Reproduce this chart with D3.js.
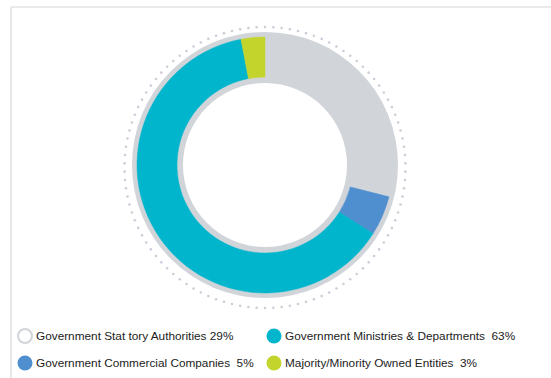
<!DOCTYPE html>
<html>
<head>
<meta charset="utf-8">
<script src="https://cdn.jsdelivr.net/npm/d3@7"></script>
<style>
  html, body { margin: 0; padding: 0; background: #fff; }
  svg { display: block; }
  text { font-family: "Liberation Sans", Arial, sans-serif; white-space: pre; }
</style>
</head>
<body>
<svg id="chart" width="551" height="378"></svg>
<script>
// Share of entities by type (percent), in drawing order clockwise from 12 o'clock
const categories = [
  "Government Stat tory Authorities",
  "Government Commercial Companies",
  "Government Ministries & Departments",
  "Majority/Minority Owned Entities"
];
const shares = [29, 5, 63, 3];
const colors = ["#d1d5d9", "#4f8fd0", "#00b5cc", "#c3d52d"];

// Legend order and label text
const legendOrder = [0, 2, 1, 3];
const legendLabels = [
  "Government Stat tory Authorities 29%",
  "Government Commercial Companies  5%",
  "Government Ministries & Departments  63%",
  "Majority/Minority Owned Entities  3%"
];

const svg = d3.select("#chart");

// Panel frame (top and left edges)
svg.append("line").attr("x1", 11).attr("y1", 7).attr("x2", 551).attr("y2", 7)
  .attr("stroke", "#e3e3e3").attr("stroke-width", 1.5);
svg.append("line").attr("x1", 11).attr("y1", 7).attr("x2", 11).attr("y2", 378)
  .attr("stroke", "#e0e0e0").attr("stroke-width", 1.5);

const cx = 265, cy = 165;
const g = svg.append("g").attr("transform", `translate(${cx},${cy})`);

// Dotted guide circle around the donut
const dotR = 140.5, dotCount = 106;
const dots = d3.range(dotCount).map(i => (i / dotCount) * 2 * Math.PI);
svg.append("g").attr("transform", `translate(${cx},${cy + 2.5})`)
  .selectAll("circle").data(dots).join("circle")
  .attr("cx", a => dotR * Math.sin(a))
  .attr("cy", a => -dotR * Math.cos(a))
  .attr("r", 1.3)
  .attr("fill", "#d0cbd9");

// Grey track behind the segments
g.append("path")
  .attr("d", d3.arc().innerRadius(82).outerRadius(133).startAngle(0).endAngle(2 * Math.PI)())
  .attr("fill", "#d1d5d9");

const pie = d3.pie().sort(null).value(d => d)(shares);
const arc = d3.arc().innerRadius(88).outerRadius(128);

g.selectAll("path.seg").data(pie).join("path")
  .attr("class", "seg")
  .attr("d", arc)
  .attr("fill", (d, i) => colors[i])
  .attr("stroke", (d, i) => colors[i])
  .attr("stroke-width", 0.5);

// Legend: two rows, two columns
const lx = d3.scaleOrdinal().domain([0, 1]).range([25, 274]);
const ly = d3.scaleOrdinal().domain([0, 1]).range([336, 363]);

const legend = svg.append("g");
legendOrder.forEach((idx, k) => {
  const col = k % 2, row = Math.floor(k / 2);
  const item = legend.append("g").attr("transform", `translate(${lx(col)},${ly(row)})`);
  if (idx === 0) {
    item.append("circle").attr("r", 7).attr("fill", "#fff")
      .attr("stroke", "#d1d5d9").attr("stroke-width", 2);
  } else {
    item.append("circle").attr("r", 7.5).attr("fill", colors[idx]);
  }
  item.append("text")
    .attr("x", 11).attr("y", 0).attr("dy", "0.35em")
    .attr("font-size", 11.8)
    .attr("fill", "#222")
    .text(legendLabels[idx]);
});
</script>
</body>
</html>
